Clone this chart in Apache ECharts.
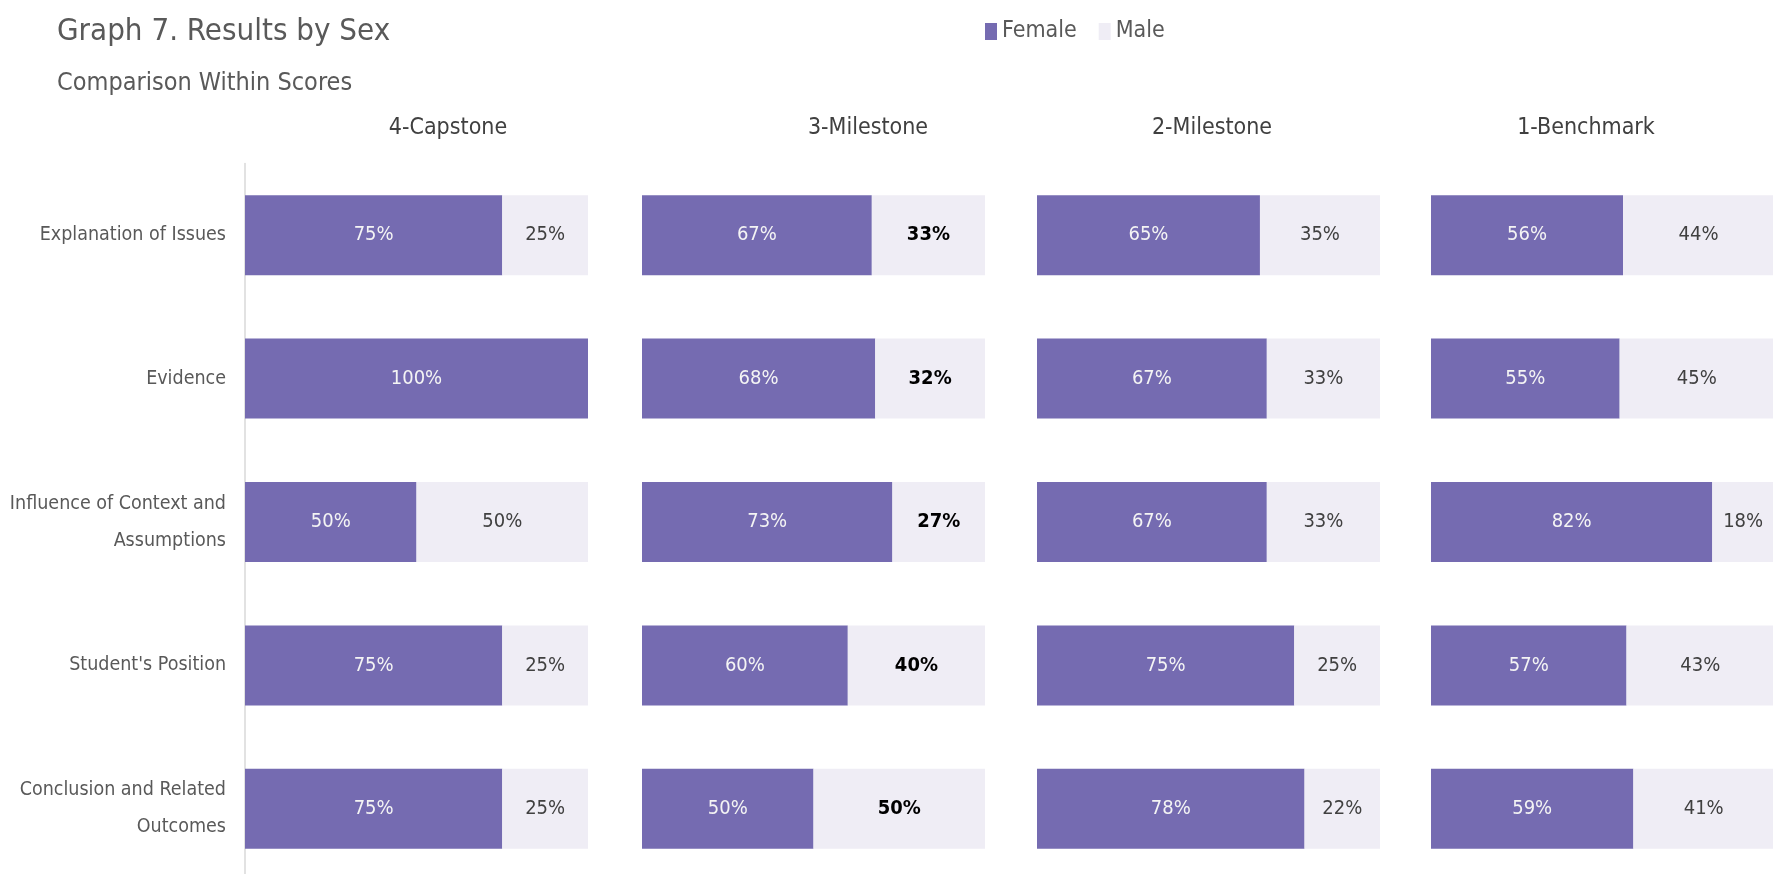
<!DOCTYPE html>
<html lang="en">
<head>
<meta charset="UTF-8">
<title>Graph 7. Results by Sex</title>
<style>
  html, body { margin: 0; padding: 0; background: #fff; }
  #box { width: 1773px; height: 874px; }
</style>
<script src="https://cdn.jsdelivr.net/npm/echarts@6/dist/echarts.min.js"></script>
</head>
<body>
<div id="box"></div>
<script>
  // data (percent within each score)
  const categories = [
    'Explanation of Issues',
    'Evidence',
    'Influence of Context and\nAssumptions',
    "Student's Position",
    'Conclusion and Related\nOutcomes'
  ];
  const scoreLevels = ['4-Capstone', '3-Milestone', '2-Milestone', '1-Benchmark'];

  const femaleCapstone = [75, 100, 50, 75, 75];
  const femaleMilestone3 = [67, 68, 73, 60, 50];
  const femaleMilestone2 = [65, 67, 67, 75, 78];
  const femaleBenchmark = [56, 55, 82, 57, 59];

  const maleCapstone = [25, 0, 50, 25, 25];
  const maleMilestone3 = [33, 32, 27, 40, 50];
  const maleMilestone2 = [35, 33, 33, 25, 22];
  const maleBenchmark = [44, 45, 18, 43, 41];

  const femaleByLevel = [femaleCapstone, femaleMilestone3, femaleMilestone2, femaleBenchmark];
  const maleByLevel = [maleCapstone, maleMilestone3, maleMilestone2, maleBenchmark];

  (function () {
    const FONT = '"Liberation Sans Narrow", "Arial Narrow", "DejaVu Sans Condensed", sans-serif';
    const PURPLE = '#756bb1';
    const LILAC = '#efedf5';

    // panel layout
    const gridLefts = [245, 642, 1037, 1431];
    const headerX = [448, 868, 1212, 1586];

    let grids = [], xAxes = [], yAxes = [], series = [];

    gridLefts.forEach(function (left, i) {
      grids.push({ left: left, top: 163.5, width: 343, height: 717, outerBoundsMode: 'none', containLabel: false });
      xAxes.push({
        type: 'value', gridIndex: i, min: 0, max: 100, show: false
      });
      yAxes.push({
        type: 'category', gridIndex: i, data: categories, inverse: true,
        axisLine: { show: i === 0, lineStyle: { color: '#d9d9d9', width: 1.5 } },
        axisTick: { show: false },
        axisLabel: {
          show: i === 0, color: '#595959', fontFamily: FONT, fontSize: 19.5,
          lineHeight: 37, margin: 19, align: 'right'
        },
        splitLine: { show: false }
      });

      let fmt = function (p) { return p.value ? p.value + '%' : ''; };
      series.push({
        name: 'Female', type: 'bar', stack: 'level' + i,
        xAxisIndex: i, yAxisIndex: i, barWidth: 80,
        data: femaleByLevel[i],
        itemStyle: { color: PURPLE },
        label: {
          show: true, position: 'inside', formatter: fmt,
          color: '#f4f4f4', fontFamily: FONT, fontSize: 20
        }
      });
      series.push({
        name: 'Male', type: 'bar', stack: 'level' + i,
        xAxisIndex: i, yAxisIndex: i, barWidth: 80,
        data: maleByLevel[i],
        itemStyle: { color: LILAC },
        label: {
          show: true, position: 'inside', formatter: fmt,
          color: i === 1 ? '#000' : '#404040',
          fontWeight: i === 1 ? 'bold' : 'normal',
          fontFamily: FONT, fontSize: 20
        }
      });
    });

    // titles and panel headers
    let texts = [
      { text: 'Graph 7. Results by Sex', x: 57, y: 32, size: 31, color: '#595959', align: 'left' },
      { text: 'Comparison Within Scores', x: 57, y: 83, size: 25, color: '#595959', align: 'left' }
    ];
    scoreLevels.forEach(function (name, i) {
      texts.push({ text: name, x: headerX[i], y: 128, size: 23, color: '#404040', align: 'center' });
    });
    let graphic = texts.map(function (t) {
      return {
        type: 'text', silent: true,
        style: {
          text: t.text, x: t.x, y: t.y, fill: t.color,
          font: t.size + 'px ' + FONT, align: t.align, verticalAlign: 'middle'
        }
      };
    });

    let option = {
      animation: false,
      backgroundColor: '#fff',
      graphic: graphic,
      legend: {
        data: ['Female', 'Male'],
        left: 980, top: 15,
        icon: 'rect', itemWidth: 12, itemHeight: 17, itemGap: 22,
        textStyle: { color: '#595959', fontFamily: FONT, fontSize: 23 }
      },
      grid: grids,
      xAxis: xAxes,
      yAxis: yAxes,
      series: series
    };

    let chart = echarts.init(box);
    chart.setOption(option);
  })();
</script>
</body>
</html>
